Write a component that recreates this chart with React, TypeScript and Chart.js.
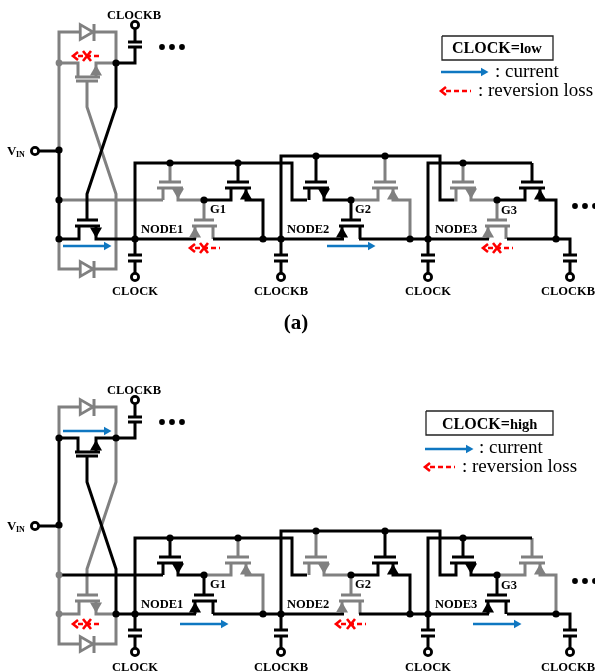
import React, { useEffect, useRef } from "react";
import { Chart, registerables } from "chart.js";

Chart.register(...registerables);

type P = [number, number];
type Line = P[];

const W = 595;
const H = 672;
const BLACK = "#000000";
const GREY = "#808080";
const BLUE = "#0f77c1";
const RED = "#ff0000";
const panelOffsets = [0, 375];

/* wires that stay the same colour in both clock phases */
const alwaysBlack: Line[] = [
  [[35, 151], [59, 151]],
  [[116, 63], [135, 63], [135, 47]],
  [[135, 42], [135, 29]],
  [[128, 42], [142, 42]],
  [[128, 47], [142, 47]],
  [[116, 239], [196, 239]],
  [[213, 239], [344, 239]],
  [[359, 239], [489, 239]],
  [[507, 239], [570, 239], [570, 255]],
  [[135, 239], [135, 163], [292, 163], [292, 200], [307, 200]],
  [[281, 239], [281, 156], [440, 156], [440, 200], [454, 200]],
  [[428, 239], [428, 163], [532, 163]],
  [[135, 239], [135, 255]], [[135, 261], [135, 273]], [[128, 255], [142, 255]], [[128, 261], [142, 261]],
  [[281, 239], [281, 255]], [[281, 261], [281, 273]], [[274, 255], [288, 255]], [[274, 261], [288, 261]],
  [[428, 239], [428, 255]], [[428, 261], [428, 273]], [[421, 255], [435, 255]], [[421, 261], [435, 261]],
  [[570, 261], [570, 273]], [[563, 255], [577, 255]], [[563, 261], [577, 261]],
];
const alwaysGrey: Line[] = [
  [[59, 63], [59, 32], [116, 32], [116, 63]],
  [[59, 239], [59, 269], [116, 269], [116, 239]],
  [[94, 24], [94, 41]],
  [[94, 261], [94, 278]],
];

/* wires that are black when CLOCK=low and grey when CLOCK=high */
const lowPhase: Line[] = [
  [[59, 150], [59, 239]],
  [[116, 63], [116, 107], [87, 194], [87, 220]],
  [[59, 239], [79, 239], [79, 226]],
  [[96, 226], [96, 239], [116, 239]],
  [[75, 226], [100, 226]],
  [[77, 220], [98, 220]],
];
/* wires that are grey when CLOCK=low and black when CLOCK=high */
const highPhase: Line[] = [
  [[59, 63], [59, 150]],
  [[87, 81], [87, 107], [116, 194], [116, 239]],
  [[59, 63], [78, 63], [78, 77]],
  [[116, 63], [96, 63], [96, 77]],
  [[75, 77], [100, 77]],
  [[76, 81], [98, 81]],
  [[59, 200], [163, 200]],
];

/* upper transistors: centre x, gate rail y, wire x at left, wire x at right, rail drop, black phase */
const upperFetCentres = [170, 238, 316, 385, 463, 532];
const upperFetRails = [163, 163, 156, 156, 163, 163];
const upperFetLeftEnds = [163, 204, 309, 351, 454, 497];
const upperFetRightEnds = [204, 263, 351, 410, 497, 556];
const upperFetDrops = [false, true, false, true, false, true];
const upperFetArrowDown = [true, false, true, false, true, false];
const upperFetBlackWhenLow = [false, true, true, false, false, true];

/* lower transistors */
const lowerFetCentres = [204, 351, 497];
const lowerFetBlackWhenLow = [false, true, false];

/* junction dots */
const blackDots: P[] = [
  [135, 239], [263, 239], [281, 239], [410, 239], [428, 239], [556, 239],
  [170, 163], [238, 163], [316, 156], [385, 156], [463, 163],
  [204, 200], [351, 200], [497, 200],
];
const lowPhaseDots: P[] = [[59, 150], [59, 200], [59, 239], [116, 63]];
const highPhaseDots: P[] = [[59, 63], [59, 150], [116, 63], [116, 239]];
const highPhaseGreyDots: P[] = [[59, 200], [59, 239]];
const lowPhaseGreyDots: P[] = [[59, 63]];
const terminals: P[] = [[35, 151], [135, 25], [135, 277], [281, 277], [428, 277], [570, 277]];
const ellipsisDots: P[] = [[162, 47], [172, 47], [182, 47], [575, 206], [585, 206], [595, 206]];
const diodes: P[] = [[84.5, 32], [84.5, 269]];

/* current and reversion-loss arrows: x from, x to, y */
const lowCurrentArrows = [[63, 110, 246], [327, 374, 246]];
const highCurrentArrows = [[63, 110, 431], [180, 227, 624], [473, 520, 624]];
const legendCurrentArrows = [[441, 487, 72], [425, 472, 449]];
const lowLossArrows = [[73, 102, 56], [190, 220, 248], [483, 513, 248]];
const highLossArrows = [[73, 102, 624], [336, 366, 624]];
const legendLossArrows = [[441, 471, 91], [425, 455, 467]];
const lossCrosses: P[] = [[87, 56], [204, 248], [497, 248], [87, 624], [351, 624]];

const legendBoxes = [[442, 36, 553, 60], [426, 411, 553, 435]];

/* text: string, x, y, align, size, bold */
type Label = [string, number, number, CanvasTextAlign, number, boolean];
const wiringLabels: Label[] = [
  ["CLOCKB", 134, 15, "center", 12.5, true],
  ["V", 7, 151, "left", 13, true],
  ["IN", 16, 154, "left", 8, true],
  ["CLOCK", 135, 291, "center", 12.5, true],
  ["CLOCKB", 281, 291, "center", 12.5, true],
  ["CLOCK", 428, 291, "center", 12.5, true],
  ["CLOCKB", 568, 291, "center", 12.5, true],
  ["NODE1", 141, 229, "left", 12.5, true],
  ["NODE2", 287, 229, "left", 12.5, true],
  ["NODE3", 435, 229, "left", 12.5, true],
  ["G1", 210, 209, "left", 12.5, true],
  ["G2", 355, 209, "left", 12.5, true],
  ["G3", 501, 210, "left", 12.5, true],
];
const legendLabels: Label[] = [
  ["CLOCK=", 452, 48, "left", 16, true],
  ["low", 520, 48, "left", 14.5, true],
  [": current", 495, 71, "left", 19, false],
  [": reversion loss", 478, 90, "left", 19, false],
  ["(a)", 296, 323, "center", 21, true],
  ["CLOCK=", 442, 424, "left", 16, true],
  ["high", 510, 424, "left", 14.5, true],
  [": current", 479, 447, "left", 19, false],
  [": reversion loss", 462, 466, "left", 19, false],
];

function shift(lines: Line[], dy: number): Line[] {
  return lines.map((l) => l.map(([x, y]) => [x, y + dy] as P));
}
function flatten(lines: Line[]) {
  const out: ({ x: number; y: number } | { x: null; y: null })[] = [];
  lines.forEach((l) => {
    l.forEach(([x, y]) => out.push({ x, y }));
    out.push({ x: null, y: null });
  });
  return out;
}
function pts(list: P[]) {
  return list.map(([x, y]) => ({ x, y }));
}

function upperFet(i: number): Line[] {
  const c = upperFetCentres[i];
  const l = c - 7;
  const r = c + 8;
  const right: Line = [[r, 188], [r, 200], [upperFetRightEnds[i], 200]];
  if (upperFetDrops[i]) right.push([upperFetRightEnds[i], 239]);
  return [
    [[c, upperFetRails[i]], [c, 182]],
    [[c - 11, 182], [c + 11, 182]],
    [[c - 13, 188], [c + 13, 188]],
    [[upperFetLeftEnds[i], 200], [l, 200], [l, 188]],
    [[r, 188], ...right.slice(1)],
  ];
}
function lowerFet(c: number): Line[] {
  return [
    [[c, 200], [c, 220]],
    [[c - 10, 220], [c + 10, 220]],
    [[c - 12, 226], [c + 13, 226]],
    [[c - 9, 226], [c - 9, 239]],
    [[c + 9, 226], [c + 9, 239]],
  ];
}

type Tri = { x: number; y: number; r: number; rot: number; color: string };

function buildDatasets() {
  const grey: Line[] = [];
  const black: Line[] = [];
  const tris: Tri[] = [];
  panelOffsets.forEach((dy, panel) => {
    const low = panel === 0;
    black.push(...shift(alwaysBlack, dy));
    grey.push(...shift(alwaysGrey, dy));
    (low ? black : grey).push(...shift(lowPhase, dy));
    (low ? grey : black).push(...shift(highPhase, dy));
    upperFetCentres.forEach((c, i) => {
      const isBlack = upperFetBlackWhenLow[i] === low;
      (isBlack ? black : grey).push(...shift(upperFet(i), dy));
      const down = upperFetArrowDown[i];
      tris.push({ x: c + 8, y: dy + (down ? 192 : 196), r: 7, rot: down ? 180 : 0, color: isBlack ? BLACK : GREY });
    });
    lowerFetCentres.forEach((c, i) => {
      const isBlack = lowerFetBlackWhenLow[i] === low;
      (isBlack ? black : grey).push(...shift(lowerFet(c), dy));
      tris.push({ x: c - 9, y: dy + 234, r: 7, rot: 0, color: isBlack ? BLACK : GREY });
    });
    tris.push({ x: 96, y: dy + 231, r: 7, rot: 180, color: low ? BLACK : GREY });
    tris.push({ x: 96, y: dy + 72, r: 7, rot: 0, color: low ? GREY : BLACK });
  });

  const current = [...lowCurrentArrows, ...highCurrentArrows, ...legendCurrentArrows];
  const loss = [...lowLossArrows, ...highLossArrows, ...legendLossArrows];
  current.forEach(([, x2, y]) => tris.push({ x: x2 - 3.5, y, r: 5, rot: 90, color: BLUE }));

  const blueLines: Line[] = current.map(([a, b, y]) => [[a, y], [b - 5, y]]);
  const redDash: Line[] = loss.map(([a, b, y]) => [[a + 5, y], [b, y]]);
  const redSolid: Line[] = [
    ...loss.map(([a, , y]) => [[a + 5, y - 4], [a, y], [a + 5, y + 4]] as Line),
    ...lossCrosses.flatMap(([x, y]) => [
      [[x - 4, y - 5], [x + 4, y + 5]] as Line,
      [[x - 4, y + 5], [x + 4, y - 5]] as Line,
    ]),
  ];
  const boxes: Line[] = legendBoxes.map(([a, b, c, d]) => [[a, b], [c, b], [c, d], [a, d], [a, b]]);

  const line = (data: any, color: string, width: number, order: number, extra: object = {}) => ({
    data,
    showLine: true,
    spanGaps: false,
    borderColor: color,
    borderWidth: width,
    pointRadius: 0,
    borderJoinStyle: "miter",
    borderCapStyle: "butt",
    order,
    clip: false,
    ...extra,
  });
  const dots = (list: P[], color: string, radius: number, order: number) => ({
    data: pts(list),
    showLine: false,
    pointRadius: radius,
    pointBackgroundColor: color,
    pointBorderColor: color,
    pointBorderWidth: 0,
    order,
    clip: false,
  });

  const allDiodes = panelOffsets.flatMap((dy) => diodes.map(([x, y]) => [x, y + dy] as P));
  const shifted = (list: P[], dy: number) => list.map(([x, y]) => [x, y + dy] as P);
  const blackDotList = [
    ...panelOffsets.flatMap((dy) => shifted(blackDots, dy)),
    ...lowPhaseDots,
    ...shifted(highPhaseDots, 375),
  ];
  const greyDotList = [...lowPhaseGreyDots, ...shifted(highPhaseGreyDots, 375)];
  const allTerminals = panelOffsets.flatMap((dy) => shifted(terminals, dy));
  const allEllipsis = panelOffsets.flatMap((dy) => shifted(ellipsisDots, dy));

  return [
    line(flatten(grey), GREY, 3, 10),
    line(flatten(black), BLACK, 3, 9),
    {
      data: pts(allDiodes),
      showLine: false,
      pointStyle: "triangle",
      pointRadius: 8.5,
      pointRotation: 90,
      pointBackgroundColor: "#ffffff",
      pointBorderColor: GREY,
      pointBorderWidth: 2.8,
      order: 8,
      clip: false,
    },
    {
      data: tris.map((t) => ({ x: t.x, y: t.y })),
      showLine: false,
      pointStyle: "triangle",
      pointRadius: tris.map((t) => t.r),
      pointRotation: tris.map((t) => t.rot),
      pointBackgroundColor: tris.map((t) => t.color),
      pointBorderColor: tris.map((t) => t.color),
      pointBorderWidth: 0,
      order: 7,
      clip: false,
    },
    line(flatten(blueLines), BLUE, 2.4, 6),
    line(flatten(redDash), RED, 2.5, 5, { borderDash: [5, 3] }),
    line(flatten(redSolid), RED, 2.6, 4),
    line(flatten(boxes), "#222222", 1.3, 3),
    dots(greyDotList, GREY, 3.4, 2.5),
    dots(blackDotList, BLACK, 3.6, 2),
    dots(allEllipsis, BLACK, 2.9, 2),
    {
      data: pts(allTerminals),
      showLine: false,
      pointRadius: 3.6,
      pointBackgroundColor: "#ffffff",
      pointBorderColor: BLACK,
      pointBorderWidth: 2.8,
      order: 1,
      clip: false,
    },
  ];
}

const textPlugin = {
  id: "circuitText",
  afterDatasetsDraw(chart: any) {
    const { ctx, scales } = chart;
    const all: Label[] = [
      ...panelOffsets.flatMap((dy) =>
        wiringLabels.map((l) => {
          const extra = dy && l[2] > 280 ? 1 : 0;
          return [l[0], l[1], l[2] + dy + extra, l[3], l[4], l[5]] as Label;
        })
      ),
      ...legendLabels,
    ];
    ctx.save();
    ctx.fillStyle = "#000000";
    ctx.textBaseline = "middle";
    all.forEach(([t, x, y, align, size, bold]) => {
      ctx.font = `${bold ? "bold " : ""}${size}px "Liberation Serif"`;
      ctx.textAlign = align;
      ctx.fillText(t, scales.x.getPixelForValue(x), scales.y.getPixelForValue(y + 1));
    });
    ctx.restore();
  },
};

export default function App() {
  const ref = useRef<HTMLCanvasElement>(null);
  useEffect(() => {
    const chart = new Chart(ref.current as HTMLCanvasElement, {
      type: "scatter",
      data: { datasets: buildDatasets() as any },
      options: {
        animation: false,
        responsive: false,
        events: [],
        layout: { padding: 0, autoPadding: false },
        plugins: { legend: { display: false }, tooltip: { enabled: false }, title: { display: false } },
        scales: {
          x: { type: "linear", min: 0, max: W, display: false },
          y: { type: "linear", min: 0, max: H, reverse: true, display: false },
        },
      },
      plugins: [textPlugin as any],
    });
    return () => chart.destroy();
  }, []);
  return (
    <div style={{ position: "absolute", left: 0, top: 0, width: W, height: H, background: "#ffffff" }}>
      <canvas ref={ref} width={W} height={H} style={{ display: "block" }} />
    </div>
  );
}
